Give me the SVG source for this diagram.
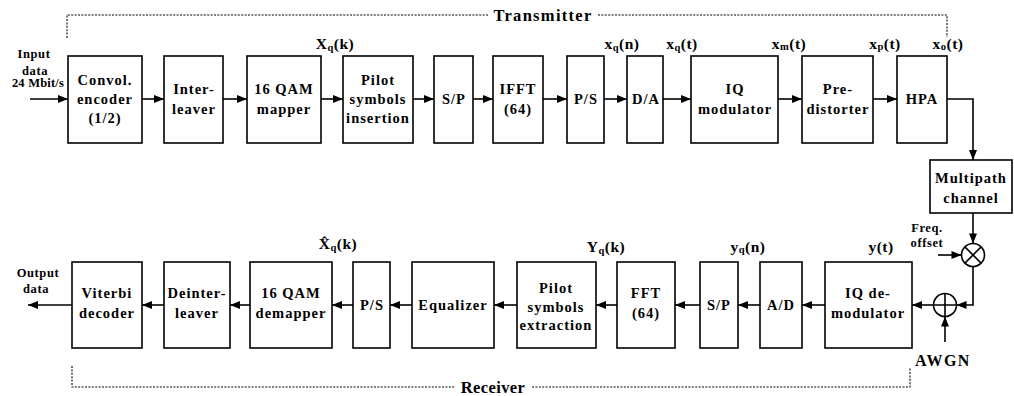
<svg xmlns="http://www.w3.org/2000/svg" width="1014" height="396" viewBox="0 0 1014 396">
<style>
.box{fill:#fff;stroke:#000;stroke-width:1.6}
.t{font-family:"Liberation Serif","Times New Roman",serif;font-weight:bold;font-size:14.5px;text-anchor:middle;letter-spacing:1px;fill:#000}
.l{font-size:15.5px;letter-spacing:0.5px}
.s{font-size:10.5px}
.sm{font-size:12.5px;letter-spacing:0.6px}
.w{fill:none;stroke:#000;stroke-width:1.6}
.d{fill:none;stroke:#000;stroke-width:1.1;stroke-dasharray:2 1.4}
.c{fill:#fff;stroke:#000;stroke-width:1.6}
</style>
<defs>
<marker id="ah" viewBox="0 0 10 8" markerWidth="11" markerHeight="8" refX="10" refY="4" orient="auto" markerUnits="userSpaceOnUse">
<path d="M0,0 L10,4 L0,8 z" fill="#000"/>
</marker>
</defs>

<!-- brackets -->
<g id="transmitter-bracket">
<polyline class="d" points="67,38 67,15 488,15"/>
<polyline class="d" points="598,15 947,15 947,37"/>
<text class="t" x="543" y="21" style="font-size:16.5px;letter-spacing:1.3px">Transmitter</text>
</g>
<g id="receiver-bracket">
<polyline class="d" points="72,366 72,387 455,387"/>
<polyline class="d" points="532,387 910,387 910,368"/>
<text class="t" x="493" y="393" style="font-size:16.5px;letter-spacing:0.4px">Receiver</text>
</g>

<!-- top row nodes -->
<g id="input-label">
<text class="t sm" x="34" y="58">Input</text>
<text class="t sm" x="35" y="75">data</text>
<text class="t sm" x="38" y="87" style="letter-spacing:0.2px">24 Mbit/s</text>
</g>
<g id="conv-encoder">
<rect class="box" x="68" y="56" width="74" height="87"/>
<text class="t" x="105" y="85">Convol.</text>
<text class="t" x="105" y="104">encoder</text>
<text class="t" x="105" y="123">(1/2)</text>
</g>
<g id="interleaver">
<rect class="box" x="164" y="56" width="59" height="87"/>
<text class="t" x="194" y="94">Inter-</text>
<text class="t" x="194" y="114">leaver</text>
</g>
<g id="qam-mapper">
<rect class="box" x="247" y="56" width="74" height="87"/>
<text class="t" x="284" y="94">16 QAM</text>
<text class="t" x="284" y="114">mapper</text>
</g>
<g id="pilot-insertion">
<rect class="box" x="343" y="56" width="70" height="87"/>
<text class="t" x="378" y="85">Pilot</text>
<text class="t" x="378" y="104">symbols</text>
<text class="t" x="378" y="123">insertion</text>
</g>
<g id="sp-tx">
<rect class="box" x="434" y="56" width="39" height="87"/>
<text class="t" x="454" y="104">S/P</text>
</g>
<g id="ifft">
<rect class="box" x="493" y="56" width="50" height="87"/>
<text class="t" x="518" y="94">IFFT</text>
<text class="t" x="518" y="114">(64)</text>
</g>
<g id="ps-tx">
<rect class="box" x="567" y="56" width="37" height="87"/>
<text class="t" x="586" y="104">P/S</text>
</g>
<g id="da">
<rect class="box" x="627" y="56" width="36" height="87"/>
<text class="t" x="646" y="104">D/A</text>
</g>
<g id="iq-mod">
<rect class="box" x="691" y="56" width="87" height="87"/>
<text class="t" x="735" y="94">IQ</text>
<text class="t" x="735" y="114">modulator</text>
</g>
<g id="predistorter">
<rect class="box" x="802" y="56" width="71" height="87"/>
<text class="t" x="838" y="94">Pre-</text>
<text class="t" x="838" y="114">distorter</text>
</g>
<g id="hpa">
<rect class="box" x="897" y="56" width="50" height="87"/>
<text class="t" x="922" y="104">HPA</text>
</g>

<!-- top signal labels -->
<g id="top-labels">
<text class="t l" x="335" y="49">X<tspan class="s" dy="2">q</tspan><tspan dy="-2">(k)</tspan></text>
<text class="t l" x="622" y="49">x<tspan class="s" dy="2">q</tspan><tspan dy="-2">(n)</tspan></text>
<text class="t l" x="682" y="49">x<tspan class="s" dy="2">q</tspan><tspan dy="-2">(t)</tspan></text>
<text class="t l" x="789" y="49">x<tspan class="s" dy="1">m</tspan><tspan dy="-1">(t)</tspan></text>
<text class="t l" x="885" y="49">x<tspan class="s" dy="1">p</tspan><tspan dy="-1">(t)</tspan></text>
<text class="t l" x="948" y="49">x<tspan class="s" dy="1">o</tspan><tspan dy="-1">(t)</tspan></text>
</g>

<!-- channel -->
<g id="multipath-channel">
<rect class="box" x="930" y="160" width="82" height="53"/>
<text class="t" x="971" y="183">Multipath</text>
<text class="t" x="971" y="203">channel</text>
</g>
<g id="freq-offset-label">
<text class="t sm" x="927" y="232">Freq.</text>
<text class="t sm" x="927" y="247">offset</text>
</g>
<g id="multiplier">
<circle class="c" cx="973" cy="255" r="11.5"/>
<path class="w" d="M964.9,246.9 L981.1,263.1 M981.1,246.9 L964.9,263.1"/>
</g>
<g id="adder">
<circle class="c" cx="945" cy="305" r="11.5"/>
<path class="w" d="M933.5,305 L956.5,305 M945,293.5 L945,316.5"/>
</g>
<g id="awgn-label">
<text class="t l" x="943" y="366" style="font-size:16px;letter-spacing:1.5px">AWGN</text>
</g>

<!-- bottom row -->
<g id="iq-demod">
<rect class="box" x="825" y="262" width="87" height="86"/>
<text class="t" x="868" y="298">IQ de-</text>
<text class="t" x="868" y="318">modulator</text>
</g>
<g id="ad">
<rect class="box" x="760" y="262" width="42" height="86"/>
<text class="t" x="781" y="310">A/D</text>
</g>
<g id="sp-rx">
<rect class="box" x="700" y="262" width="38" height="86"/>
<text class="t" x="719" y="310">S/P</text>
</g>
<g id="fft">
<rect class="box" x="617" y="262" width="58" height="86"/>
<text class="t" x="646" y="298">FFT</text>
<text class="t" x="646" y="318">(64)</text>
</g>
<g id="pilot-extraction">
<rect class="box" x="517" y="262" width="79" height="86"/>
<text class="t" x="556" y="293">Pilot</text>
<text class="t" x="556" y="312">symbols</text>
<text class="t" x="556" y="330">extraction</text>
</g>
<g id="equalizer">
<rect class="box" x="412" y="262" width="82" height="86"/>
<text class="t" x="453" y="310">Equalizer</text>
</g>
<g id="ps-rx">
<rect class="box" x="353" y="262" width="37" height="86"/>
<text class="t" x="372" y="310">P/S</text>
</g>
<g id="qam-demapper">
<rect class="box" x="250" y="262" width="82" height="86"/>
<text class="t" x="291" y="298">16 QAM</text>
<text class="t" x="291" y="318">demapper</text>
</g>
<g id="deinterleaver">
<rect class="box" x="164" y="262" width="66" height="86"/>
<text class="t" x="197" y="298">Deinter-</text>
<text class="t" x="197" y="318">leaver</text>
</g>
<g id="viterbi">
<rect class="box" x="72" y="262" width="70" height="86"/>
<text class="t" x="107" y="298">Viterbi</text>
<text class="t" x="107" y="318">decoder</text>
</g>
<g id="output-label">
<text class="t sm" x="38" y="277">Output</text>
<text class="t sm" x="36" y="293">data</text>
</g>

<!-- bottom signal labels -->
<g id="bottom-labels">
<text class="t l" x="338" y="249">X&#x302;<tspan class="s" dy="2">q</tspan><tspan dy="-2">(k)</tspan></text>
<text class="t l" x="606" y="252">Y<tspan class="s" dy="2">q</tspan><tspan dy="-2">(k)</tspan></text>
<text class="t l" x="748" y="252">y<tspan class="s" dy="1">q</tspan><tspan dy="-1">(n)</tspan></text>
<text class="t l" x="881" y="252">y(t)</text>
</g>

<!-- connectors -->
<g id="connectors" class="w">
<line class="w" x1="30" y1="99" x2="68" y2="99" marker-end="url(#ah)"/>
<line class="w" x1="142" y1="99" x2="164" y2="99" marker-end="url(#ah)"/>
<line class="w" x1="223" y1="99" x2="247" y2="99" marker-end="url(#ah)"/>
<line class="w" x1="321" y1="99" x2="343" y2="99" marker-end="url(#ah)"/>
<line class="w" x1="413" y1="99" x2="434" y2="99" marker-end="url(#ah)"/>
<line class="w" x1="473" y1="99" x2="493" y2="99" marker-end="url(#ah)"/>
<line class="w" x1="543" y1="99" x2="567" y2="99" marker-end="url(#ah)"/>
<line class="w" x1="604" y1="99" x2="627" y2="99" marker-end="url(#ah)"/>
<line class="w" x1="663" y1="99" x2="691" y2="99" marker-end="url(#ah)"/>
<line class="w" x1="778" y1="99" x2="802" y2="99" marker-end="url(#ah)"/>
<line class="w" x1="873" y1="99" x2="897" y2="99" marker-end="url(#ah)"/>
<polyline class="w" points="947,99 973,99 973,160" marker-end="url(#ah)"/>
<line class="w" x1="973" y1="213" x2="973" y2="243.5" marker-end="url(#ah)"/>
<line class="w" x1="938" y1="255" x2="961.5" y2="255" marker-end="url(#ah)"/>
<polyline class="w" points="973,266.5 973,305 956.5,305" marker-end="url(#ah)"/>
<line class="w" x1="933.5" y1="305" x2="912" y2="305" marker-end="url(#ah)"/>
<line class="w" x1="945" y1="342" x2="945" y2="316.5" marker-end="url(#ah)"/>
<line class="w" x1="825" y1="305" x2="802" y2="305" marker-end="url(#ah)"/>
<line class="w" x1="760" y1="305" x2="738" y2="305" marker-end="url(#ah)"/>
<line class="w" x1="700" y1="305" x2="675" y2="305" marker-end="url(#ah)"/>
<line class="w" x1="617" y1="305" x2="596" y2="305" marker-end="url(#ah)"/>
<line class="w" x1="517" y1="305" x2="494" y2="305" marker-end="url(#ah)"/>
<line class="w" x1="412" y1="305" x2="390" y2="305" marker-end="url(#ah)"/>
<line class="w" x1="353" y1="305" x2="332" y2="305" marker-end="url(#ah)"/>
<line class="w" x1="250" y1="305" x2="230" y2="305" marker-end="url(#ah)"/>
<line class="w" x1="164" y1="305" x2="142" y2="305" marker-end="url(#ah)"/>
<line class="w" x1="72" y1="305" x2="28" y2="305" marker-end="url(#ah)"/>
</g>
</svg>
